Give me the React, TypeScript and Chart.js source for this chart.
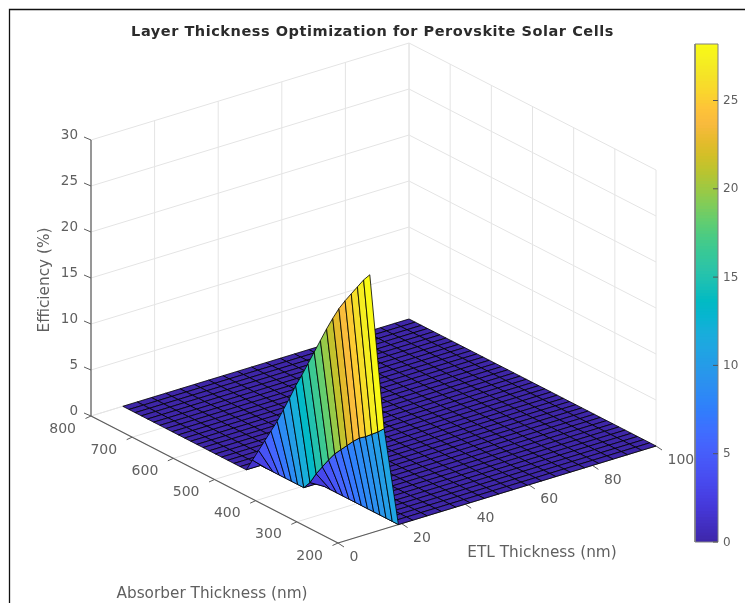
import React, { useEffect, useRef } from "react";
import { Chart, registerables } from "chart.js";

Chart.register(...registerables);

const chartTitle = "Layer Thickness Optimization for Perovskite Solar Cells";
const etlLabel = "ETL Thickness (nm)";
const absorberLabel = "Absorber Thickness (nm)";
const efficiencyLabel = "Efficiency (%)";

const etlGrid = [10, 14.5, 19, 23.5, 28, 32.5, 37, 41.5, 46, 50.5, 55, 59.5, 64, 68.5, 73, 77.5, 82, 86.5, 91, 95.5, 100];
const absorberGrid = [200, 215, 230, 245, 260, 275, 290, 305, 320, 335, 350, 365, 380, 395, 410, 425, 440, 455, 470, 485, 500, 515, 530, 545, 560, 575, 590, 605, 620, 635, 650, 665, 680, 695, 710, 725, 740, 755, 770, 785, 800];
// Efficiency along the first two ETL columns, from absorber 200 upward; beyond each list, and in
// every other column of the surface, the picture reads 0.
const ridgeEfficiency = [28.1, 27.2, 26.1, 25.0, 23.9, 22.7, 21.3, 19.8, 18.2, 16.6, 15.0, 13.4, 11.9, 10.2, 8.6, 7.0, 5.6, 4.2, 2.8, 1.4, 0];
const secondEfficiency = [10.9, 10.2, 9.6, 9.0, 8.5, 7.8, 7.0, 6.2, 5.4, 4.4, 3.3, 2.2, 0.9, 0];
const floorEfficiency = 0;

const etlTicks = [0, 20, 40, 60, 80, 100];
const absorberTicks = [200, 300, 400, 500, 600, 700, 800];
const efficiencyTicks = [0, 5, 10, 15, 20, 25, 30];
const colorbarTicks = [0, 5, 10, 15, 20, 25];
const colorbarMax = 28.2;

const parula: number[][] = [
  [0.2422, 0.1504, 0.6603], [0.2578, 0.1818, 0.7511], [0.2706, 0.2147, 0.8364], [0.2783, 0.2559, 0.8991],
  [0.2813, 0.3006, 0.9414], [0.2795, 0.3447, 0.9717], [0.2699, 0.3892, 0.9906], [0.2440, 0.4358, 0.9988],
  [0.1963, 0.4847, 0.9892], [0.1786, 0.5289, 0.9682], [0.1687, 0.5703, 0.9359], [0.1460, 0.6091, 0.9079],
  [0.1248, 0.6459, 0.8883], [0.0952, 0.6798, 0.8598], [0.0297, 0.7082, 0.8163], [0.0067, 0.7312, 0.7660],
  [0.0964, 0.7500, 0.7120], [0.1717, 0.7670, 0.6554], [0.2161, 0.7843, 0.5923], [0.2906, 0.7973, 0.5188],
  [0.3909, 0.8029, 0.4354], [0.5044, 0.7993, 0.3480], [0.6174, 0.7876, 0.2612], [0.7242, 0.7698, 0.1910],
  [0.8203, 0.7498, 0.1535], [0.9035, 0.7330, 0.1774], [0.9728, 0.7298, 0.2394], [0.9970, 0.7659, 0.2199],
  [0.9786, 0.8386, 0.1766], [0.9610, 0.8890, 0.1537], [0.9628, 0.9373, 0.1265], [0.9769, 0.9839, 0.0805],
];

// Projection of the 3-D box to the picture plane
const W = 745;
const H = 603;
const box = { x0: 338, y0: 543, etlX: 3.18, etlY: -0.97, absX: -247 / 600, absY: -127 / 600, zY: -9.2 };
const project = (etl: number, abs: number, z: number) => ({
  x: box.x0 + etl * box.etlX + (abs - 200) * box.absX,
  y: box.y0 + etl * box.etlY + (abs - 200) * box.absY + z * box.zY,
});
const bar = { left: 695, right: 718, bottom: 542, top: 44 };
const barY = (v: number) => bar.bottom + (bar.top - bar.bottom) * (v / colorbarMax);

const colorFor = (v: number) => {
  const t = Math.min(1, Math.max(0, v / colorbarMax)) * (parula.length - 1);
  const i = Math.min(parula.length - 2, Math.floor(t));
  const f = t - i;
  const c = parula[i].map((a, k) => Math.round(255 * (a + (parula[i + 1][k] - a) * f)));
  return `rgb(${c[0]},${c[1]},${c[2]})`;
};
const valueAt = (i: number, j: number) =>
  (i === 0 ? ridgeEfficiency[j] : i === 1 ? secondEfficiency[j] : floorEfficiency) ?? floorEfficiency;

const TITLE_SIZE = 14.5;
const TITLE_PAD = 24;
const TITLE_LH = 16;
const FONT = "'DejaVu Sans'";
const TEXT = "#5f5f5f";

const lineSet = (points: { x: number; y: number }[], color: string, width: number) => ({
  data: points,
  showLine: true,
  fill: false,
  borderColor: color,
  borderWidth: width,
  pointRadius: 0,
  clip: false as const,
});
const polySet = (points: { x: number; y: number }[], fill: string, stroke: string, width: number) => ({
  data: [...points, points[0]],
  showLine: true,
  fill: "shape",
  backgroundColor: fill,
  borderColor: stroke,
  borderWidth: width,
  pointRadius: 0,
  clip: false as const,
});

function buildDatasets() {
  const sets: any[] = [];
  const gridColor = "#e4e4e4";
  const axisColor = "#5c5c5c";
  // frame around the figure
  sets.push(lineSet([{ x: 9.5, y: H }, { x: 9.5, y: 9.5 }, { x: W, y: 9.5 }], "#111111", 1.3));
  // walls and floor grid
  etlTicks.forEach((e) => {
    sets.push(lineSet([project(e, 800, 0), project(e, 800, 30)], gridColor, 1));
    sets.push(lineSet([project(e, 200, 0), project(e, 800, 0)], gridColor, 1));
  });
  absorberTicks.forEach((a) => {
    sets.push(lineSet([project(100, a, 0), project(100, a, 30)], gridColor, 1));
    sets.push(lineSet([project(0, a, 0), project(100, a, 0)], gridColor, 1));
  });
  efficiencyTicks.forEach((z) => {
    sets.push(lineSet([project(0, 800, z), project(100, 800, z), project(100, 200, z)], gridColor, 1));
  });
  // axis lines and tick marks
  sets.push(lineSet([project(0, 800, 0), project(0, 800, 30)], axisColor, 1.2));
  sets.push(lineSet([project(0, 800, 0), project(0, 200, 0)], axisColor, 1.2));
  sets.push(lineSet([project(0, 200, 0), project(100, 200, 0)], axisColor, 1.2));
  efficiencyTicks.forEach((z) => {
    const p = project(0, 800, z);
    sets.push(lineSet([p, { x: p.x - 7, y: p.y - 3 }], axisColor, 1));
  });
  absorberTicks.forEach((a) => {
    const p = project(0, a, 0);
    sets.push(lineSet([p, { x: p.x - 5.5, y: p.y + 2.5 }], axisColor, 1));
  });
  etlTicks.forEach((e) => {
    const p = project(e, 200, 0);
    sets.push(lineSet([p, { x: p.x + 6, y: p.y + 4 }], axisColor, 1));
  });
  // surface, far cells first
  for (let i = etlGrid.length - 2; i >= 0; i--) {
    for (let j = absorberGrid.length - 2; j >= 0; j--) {
      const poly = [
        project(etlGrid[i], absorberGrid[j], valueAt(i, j)),
        project(etlGrid[i + 1], absorberGrid[j], valueAt(i + 1, j)),
        project(etlGrid[i + 1], absorberGrid[j + 1], valueAt(i + 1, j + 1)),
        project(etlGrid[i], absorberGrid[j + 1], valueAt(i, j + 1)),
      ];
      sets.push(polySet(poly, colorFor(valueAt(i, j)), "#000000", 0.8));
    }
  }
  // colour bar: overlapping slices, drawn bottom to top, so no seams show
  const steps = 160;
  for (let s = 0; s < steps; s++) {
    const a = (colorbarMax * s) / steps;
    const b = Math.min(colorbarMax, (colorbarMax * (s + 2)) / steps);
    sets.push(
      polySet(
        [{ x: bar.left, y: barY(a) }, { x: bar.right, y: barY(a) }, { x: bar.right, y: barY(b) }, { x: bar.left, y: barY(b) }],
        colorFor((colorbarMax * (s + 0.5)) / steps), "rgba(0,0,0,0)", 0,
      ),
    );
  }
  sets.push(
    lineSet(
      [{ x: bar.left, y: bar.bottom }, { x: bar.right, y: bar.bottom }, { x: bar.right, y: bar.top }, { x: bar.left, y: bar.top }, { x: bar.left, y: bar.bottom }],
      "#808080", 1,
    ),
  );
  colorbarTicks.forEach((v) => {
    sets.push(lineSet([{ x: bar.right - 5, y: barY(v) }, { x: bar.right, y: barY(v) }], "#555555", 1));
  });
  const n = sets.length;
  sets.forEach((d, k) => (d.order = n - k));
  return sets;
}

const textPlugin = {
  id: "axisText",
  beforeDraw(chart: any) {
    // the reference title is tracked a little wider than the font's natural spacing
    chart.ctx.letterSpacing = "0.54px";
  },
  afterDraw(chart: any) {
    const { ctx, scales } = chart;
    ctx.letterSpacing = "0px";
    const px = (x: number) => scales.x.getPixelForValue(x);
    const py = (y: number) => scales.y.getPixelForValue(y);
    const put = (s: string, x: number, y: number, align: CanvasTextAlign, size: number, rot = 0) => {
      ctx.save();
      ctx.translate(px(x), py(y));
      ctx.rotate(rot);
      ctx.textAlign = align;
      ctx.textBaseline = "middle";
      ctx.fillStyle = TEXT;
      ctx.font = `${size}px ${FONT}`;
      ctx.fillText(s, 0, 0);
      ctx.restore();
    };
    efficiencyTicks.forEach((z) => {
      const p = project(0, 800, z);
      put(String(z), p.x - 13, p.y - 4.5, "right", 13.5);
    });
    absorberTicks.forEach((a) => {
      const p = project(0, a, 0);
      put(String(a), p.x - 15, p.y + 13, "right", 14);
    });
    etlTicks.forEach((e) => {
      const p = project(e, 200, 0);
      put(String(e), p.x + 11.5, p.y + 14.5, "left", 14);
    });
    colorbarTicks.forEach((v) => put(String(v), bar.right + 5, barY(v) + 0.5, "left", 12));
    put(etlLabel, 542, 553.5, "center", 15.3);
    put(absorberLabel, 212, 594, "center", 15.3);
    put(efficiencyLabel, 45, 280, "center", 15.3, -Math.PI / 2);
  },
};

export default function App() {
  const ref = useRef<HTMLCanvasElement>(null);
  useEffect(() => {
    document.body.style.margin = "0";
    const chart = new Chart(ref.current!, {
      type: "scatter",
      data: { datasets: buildDatasets() },
      options: {
        animation: false,
        responsive: false,
        events: [],
        layout: { padding: 0 },
        scales: {
          x: { type: "linear", display: false, min: 0, max: W },
          y: { type: "linear", display: false, min: TITLE_PAD + TITLE_LH, max: H, reverse: true },
        },
        elements: { line: { tension: 0 } },
        plugins: {
          legend: { display: false },
          tooltip: { enabled: false },
          title: {
            display: true,
            text: chartTitle,
            color: "#2b2b2b",
            font: { family: FONT, size: TITLE_SIZE, weight: "bold", lineHeight: TITLE_LH / TITLE_SIZE },
            padding: { top: TITLE_PAD, bottom: 0 },
          },
        },
      },
      plugins: [textPlugin],
    } as any);
    return () => chart.destroy();
  }, []);
  return (
    <canvas
      ref={ref}
      width={W}
      height={H}
      style={{ display: "block", width: W, height: H, filter: "blur(0.6px)" }}
    />
  );
}
